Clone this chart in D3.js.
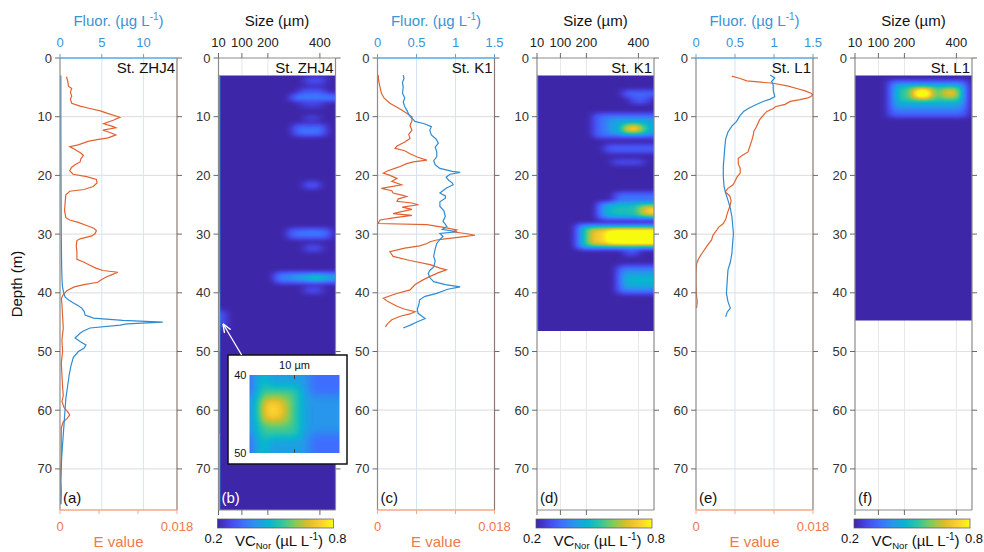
<!DOCTYPE html>
<html>
<head>
<meta charset="utf-8">
<script src="https://d3js.org/d3.v7.min.js"></script>
<style>
  body { margin: 0; background: #fff; }
  text { font-family: "Liberation Sans", Arial, Helvetica, sans-serif; }
</style>
</head>
<body>
<div id="chart"></div>
<script>
// ---- data ----
const stations = ["St. ZHJ4", "St. K1", "St. L1"];
const letters = ["(a)", "(b)", "(c)", "(d)", "(e)", "(f)"];
const depthTicks = [0, 10, 20, 30, 40, 50, 60, 70];
const sizeTicks = [10, 100, 200, 400];
const fluorMax = [14, 1.5, 1.5];
const fluorTicks = [[0, 5, 10], [0, 0.5, 1, 1.5], [0, 0.5, 1, 1.5]];
const eTicks = [0, 0.006, 0.012, 0.018];
const eTickLabels = [0, 0.018];

// [depth (m), E value]
const zhj4E = [[3.2,0.0010],[4.0,0.0012],[4.8,0.0013],[5.2,0.0018],[5.8,0.0016],[6.5,0.0018],[7.0,0.0016],[7.7,0.0018],[8.2,0.0031],[8.6,0.0046],[9.0,0.0062],[9.4,0.0072],[10.1,0.0092],[10.6,0.0082],[11.2,0.0067],[11.6,0.0080],[11.9,0.0086],[12.3,0.0066],[12.7,0.0077],[13.1,0.0086],[13.6,0.0074],[13.9,0.0057],[14.2,0.0043],[14.8,0.0028],[15.1,0.0015],[15.6,0.0023],[16.2,0.0032],[16.6,0.0036],[17.2,0.0032],[17.7,0.0031],[18.2,0.0023],[18.6,0.0018],[19.2,0.0015],[19.8,0.0020],[20.2,0.0041],[20.7,0.0056],[21.3,0.0057],[21.9,0.0051],[22.4,0.0037],[22.7,0.0015],[23.3,0.0009],[24.5,0.0008],[26.0,0.0007],[27.2,0.0009],[27.6,0.0015],[28.0,0.0028],[28.5,0.0040],[29.0,0.0052],[29.4,0.0056],[29.9,0.0054],[30.3,0.0049],[30.8,0.0031],[31.1,0.0026],[32.0,0.0025],[33.0,0.0026],[34.3,0.0026],[34.8,0.0037],[35.3,0.0046],[35.8,0.0055],[36.2,0.0066],[36.5,0.0089],[36.9,0.0080],[37.3,0.0071],[37.8,0.0063],[38.2,0.0058],[38.6,0.0037],[39.0,0.0022],[39.6,0.0011],[40.3,0.0005],[41.0,0.0002],[42.0,0.0003],[44.0,0.0004],[46.0,0.0005],[48.0,0.0003],[50.0,0.0004],[52.0,0.0002],[54.0,0.0003],[56.0,0.0004],[57.5,0.0005],[58.5,0.0003],[59.5,0.0006],[60.3,0.0012],[60.8,0.0015],[61.4,0.0011],[62.0,0.0005],[63.0,0.0002],[65.0,0.0002],[68.0,0.0002],[70.0,0.0001],[72.0,0.0001],[74.0,0.0002],[76.0,0.0001]];
// [depth (m), Fluor]
const zhj4F = [[3,0.1],[10,0.1],[20,0.12],[30,0.15],[36,0.2],[38,0.25],[39,0.3],[40,0.45],[40.7,0.6],[41.2,1.0],[41.7,1.55],[42.2,2.2],[42.6,2.6],[43.2,2.9],[43.8,3.0],[44.3,4.0],[44.7,7.5],[45.0,12.3],[45.3,8.0],[45.5,7.2],[46.0,3.6],[46.5,2.8],[46.9,2.4],[47.7,1.8],[48.3,2.4],[48.9,3.1],[49.4,2.9],[50.0,2.2],[51.0,1.6],[52.5,1.3],[54,1.1],[56,0.9],[58,0.7],[60,0.6],[62,0.5],[64,0.4],[66,0.3],[68,0.2],[70,0.15],[72,0.1],[74,0.1],[76,0.1]];

const k1E = [[2.9,0.0001],[4.0,0.0002],[5.0,0.0004],[6.0,0.0006],[6.8,0.0010],[7.7,0.0019],[8.5,0.0032],[9.2,0.0042],[10.0,0.0053],[10.7,0.0053],[11.5,0.0050],[12.3,0.0053],[13.0,0.0048],[13.7,0.0050],[14.3,0.0042],[15.0,0.0030],[15.4,0.0027],[15.8,0.0042],[16.3,0.0050],[16.9,0.0062],[17.4,0.0076],[17.7,0.0055],[18.0,0.0045],[18.6,0.0032],[19.2,0.0016],[19.6,0.0009],[20.0,0.0019],[20.5,0.0030],[21.0,0.0022],[21.6,0.0037],[22.2,0.0006],[22.6,0.0022],[23.0,0.0024],[23.4,0.0039],[23.6,0.0045],[24.0,0.0032],[24.4,0.0030],[24.7,0.0053],[25.0,0.0063],[25.4,0.0038],[25.8,0.0053],[26.2,0.0035],[26.5,0.0024],[26.8,0.0053],[27.2,0.0027],[27.6,0.0004],[28.2,0.0001],[28.4,0.0076],[28.9,0.0104],[29.3,0.0122],[29.6,0.0115],[29.9,0.0135],[30.2,0.0150],[30.5,0.0127],[30.8,0.0104],[31.0,0.0091],[31.3,0.0081],[31.6,0.0076],[32.0,0.0065],[32.4,0.0042],[33.0,0.0019],[33.8,0.0024],[34.5,0.0050],[35.2,0.0081],[35.8,0.0096],[36.1,0.0106],[36.6,0.0093],[37.2,0.0081],[37.8,0.0070],[38.6,0.0058],[39.5,0.0050],[40.2,0.0027],[40.9,0.0009],[41.5,0.0016],[42.3,0.0030],[42.8,0.0042],[43.2,0.0058],[43.6,0.0050],[44.0,0.0035],[44.6,0.0022],[45.2,0.0016],[45.8,0.0012]];
const k1F = [[2.9,0.33],[3.5,0.34],[4.2,0.32],[5.0,0.33],[6.0,0.32],[6.8,0.35],[7.5,0.33],[8.3,0.35],[9.0,0.38],[9.6,0.40],[10.0,0.42],[10.5,0.46],[10.8,0.48],[11.2,0.60],[11.7,0.69],[12.3,0.67],[13.1,0.69],[13.8,0.75],[14.5,0.78],[15.2,0.74],[16.0,0.76],[16.8,0.76],[17.5,0.72],[18.2,0.74],[18.8,0.80],[19.3,0.96],[19.5,1.06],[19.8,0.93],[20.3,0.88],[20.8,0.91],[21.3,0.96],[21.6,0.97],[22.2,0.88],[23.0,0.80],[23.5,0.87],[23.9,0.87],[24.5,0.80],[25.3,0.80],[26.0,0.85],[27.0,0.87],[27.8,0.84],[28.7,0.89],[29.2,0.83],[29.6,1.02],[29.9,0.80],[30.4,0.84],[30.9,0.80],[31.6,0.76],[32.5,0.74],[33.8,0.72],[34.6,0.74],[35.6,0.72],[36.2,0.67],[36.7,0.65],[37.4,0.67],[38.1,0.72],[38.6,0.87],[39.0,1.06],[39.4,0.90],[40.1,0.76],[40.6,0.61],[41.2,0.54],[42.0,0.53],[42.8,0.51],[43.5,0.52],[44.0,0.57],[44.4,0.61],[44.9,0.52],[45.5,0.42],[46.0,0.33]];

const l1E = [[3.1,0.0055],[3.5,0.0068],[3.9,0.0078],[4.3,0.0119],[4.8,0.0142],[5.2,0.0155],[5.6,0.0168],[6.0,0.0177],[6.3,0.0180],[6.6,0.0176],[6.8,0.0172],[7.1,0.0160],[7.4,0.0145],[7.9,0.0137],[8.3,0.0122],[8.6,0.0119],[9.1,0.0109],[9.7,0.0104],[10.5,0.0098],[11.2,0.0095],[11.7,0.0093],[12.5,0.0089],[13.2,0.0088],[14.0,0.0086],[15.0,0.0083],[16.0,0.0080],[16.6,0.0071],[17.1,0.0065],[18.0,0.0065],[18.8,0.0068],[19.6,0.0068],[20.3,0.0063],[21.0,0.0060],[21.6,0.0057],[22.2,0.0049],[22.8,0.0045],[23.5,0.0052],[24.3,0.0054],[25.3,0.0052],[26.5,0.0048],[27.4,0.0046],[28.2,0.0042],[28.8,0.0035],[29.3,0.0032],[30.2,0.0026],[31.0,0.0024],[32.0,0.0017],[33.3,0.0009],[34.2,0.0004],[35.0,0.0001],[36.7,0.0000],[38.5,0.0000],[40.7,0.0001],[41.5,0.0002],[42.4,0.0001],[42.6,0.0001]];
const l1F = [[2.9,0.95],[3.4,1.01],[4.0,0.97],[4.6,0.99],[5.5,0.99],[6.0,1.00],[6.6,1.01],[7.0,0.95],[7.4,0.86],[8.0,0.76],[8.6,0.67],[9.1,0.61],[9.9,0.56],[10.8,0.52],[11.6,0.46],[12.6,0.41],[13.8,0.38],[15.1,0.37],[16.8,0.36],[18.5,0.35],[20.2,0.35],[21.9,0.36],[23.0,0.38],[24.2,0.41],[25.6,0.44],[27.0,0.46],[28.5,0.47],[29.9,0.48],[31.5,0.47],[33.3,0.46],[34.8,0.44],[36.1,0.41],[38.0,0.40],[40.1,0.39],[41.5,0.41],[42.6,0.44],[43.3,0.40],[44.1,0.38]];

// heatmap depth ranges [top, bottom] (m)
const heatRange = [[3, 77], [3, 46.5], [3, 44.7]];
// heatmap cells: [depthTop, depthBottom, sizeLeft, sizeRight, VC_Nor]
const zhj4Heat = [[3.2,4.6,340,420,0.28],[5.2,6.3,320,420,0.3],[6.3,7.3,290,460,0.37],[7.6,8.5,330,410,0.27],[9.8,10.6,340,400,0.27],[11.4,13.3,300,420,0.33],[12.3,13.0,320,400,0.36],[21.0,22.2,340,400,0.3],[29.0,30.7,280,440,0.33],[29.4,30.3,330,410,0.36],[31.8,33.0,340,410,0.28],[36.6,38.3,230,460,0.37],[36.9,38.0,300,460,0.44],[37.0,37.9,360,410,0.56],[39.0,40.2,340,410,0.28],[43,46,10,35,0.3]];
const k1Heat = [[5.6,6.6,340,460,0.33],[6.6,7.8,370,440,0.3],[9.4,13.5,230,460,0.33],[10.2,13.0,280,460,0.42],[11.2,12.8,330,440,0.52],[11.3,12.7,350,410,0.75],[14.8,16.2,270,460,0.31],[17.3,18.2,300,420,0.29],[23.0,24.6,310,460,0.34],[24.6,27.4,250,460,0.43],[24.8,27.2,290,460,0.5],[25.0,27.0,400,460,0.64],[25.5,26.7,430,460,0.76],[28.4,32.5,165,460,0.4],[28.8,32.1,185,460,0.55],[29.1,31.9,215,460,0.72],[29.3,31.7,280,460,0.88],[29.6,31.4,310,460,0.95],[32.6,33.6,350,400,0.3],[35.4,40.2,320,460,0.34],[36.2,39.4,330,460,0.41],[37.0,38.8,350,460,0.47]];
const l1Heat = [[3.8,9.9,140,440,0.33],[4.4,8.6,155,430,0.43],[8.5,10.0,340,410,0.33],[4.9,7.4,175,420,0.54],[5.0,7.0,230,310,0.7],[5.2,6.8,345,405,0.7],[5.3,6.7,245,295,0.92]];
// narrow left-edge strips (smallest size class)
const zhj4Strip = [[3,77,10,17,0.45],[40,50,10,14,0.68],[64,77,10,14,0.66]];
const k1Strip = [[3,46.5,10,15,0.32]];
// inset of (b): 10 µm class, 40-50 m
const insetSize = [5, 15];
const insetDepth = [40, 50];
const insetHeat = [[40,50,5,15,0.33],[40,50,5.7,11.5,0.42],[42.5,47.5,5,15,0.4],[40,50,5.9,6.8,0.52],[41.5,48,6.0,10.5,0.55],[42.8,46.2,6.2,9.3,0.66],[43.3,45.6,6.5,8.5,0.75]];

// ---- layout ----
const W = 984, H = 552;
const panelX = [60, 218.5, 377.5, 537, 696, 855];
const panelW = 117;
const yTop = 58, yBot = 510;
const blue = "#2f8bd2", orange = "#e2622f";
const blueText = "#3a94d6", orangeText = "#ec7a4b";

const parula = ["#3e26a8","#4747eb","#3e6ffe","#2796eb","#08b5d0","#31c69f","#81cc59","#dcbd29","#fccf30","#f9fb0e"];
const color = d3.scaleLinear()
  .domain(parula.map((c, i) => 0.2 + 0.6 * i / (parula.length - 1)))
  .range(parula).clamp(true);
const lut = d3.range(256).map(i => d3.rgb(color(0.2 + 0.6 * i / 255)));

const svg = d3.select("#chart").append("svg")
  .attr("width", W).attr("height", H)
  .style("background", "#fff");
const defs = svg.append("defs");

const grad = defs.append("linearGradient").attr("id", "parulaGrad");
parula.forEach((c, i) => grad.append("stop")
  .attr("offset", (100 * i / (parula.length - 1)) + "%").attr("stop-color", c));

defs.append("marker").attr("id", "arrowW")
  .attr("viewBox", "0 0 10 10").attr("refX", 9).attr("refY", 5)
  .attr("markerWidth", 7).attr("markerHeight", 7).attr("orient", "auto")
  .append("path").attr("d", "M0,1 L10,5 L0,9").attr("fill", "none")
  .attr("stroke", "#fff").attr("stroke-width", 1.5);

const y = d3.scaleLinear().domain([0, 77]).range([yTop, yBot]);

// box blur of a value grid along one axis
function boxPass(src, w, h, r, horiz) {
  const out = new Float32Array(src.length);
  const n = horiz ? w : h, m = horiz ? h : w;
  for (let j = 0; j < m; j++) {
    for (let i = 0; i < n; i++) {
      let s = 0, c = 0;
      for (let k = -r; k <= r; k++) {
        const ii = Math.min(n - 1, Math.max(0, i + k));
        s += horiz ? src[j * w + ii] : src[ii * w + j];
        c++;
      }
      if (horiz) out[j * w + i] = s / c; else out[i * w + j] = s / c;
    }
  }
  return out;
}

// Paints the cells into a pixel grid of values, smooths it, colours it with
// the parula scale and lays it in as an image (like the interpolated original).
function softHeat(parent, cells, xs, ys, box, rx, ry, passes, edges) {
  const pad = 16;
  const gw = Math.ceil(box.w) + 2 * pad, gh = Math.ceil(box.h) + 2 * pad;
  const ox = box.x - pad, oy = box.y - pad;
  let grid = new Float32Array(gw * gh).fill(0.2);
  cells.slice().sort((a, b) => a[4] - b[4]).forEach(c => {
    let px0 = xs(c[2]), px1 = xs(c[3]), py0 = ys(c[0]), py1 = ys(c[1]);
    if (c[2] <= edges[0]) px0 -= pad;
    if (c[3] >= edges[1]) px1 += pad;
    if (c[0] <= edges[2]) py0 -= pad;
    if (c[1] >= edges[3]) py1 += pad;
    const i0 = Math.max(0, Math.round(px0 - ox)), i1 = Math.min(gw, Math.round(px1 - ox));
    const j0 = Math.max(0, Math.round(py0 - oy)), j1 = Math.min(gh, Math.round(py1 - oy));
    for (let j = j0; j < j1; j++) for (let i = i0; i < i1; i++) grid[j * gw + i] = c[4];
  });
  for (let p = 0; p < passes; p++) {
    grid = boxPass(grid, gw, gh, rx, true);
    grid = boxPass(grid, gw, gh, ry, false);
  }
  const cv = document.createElement("canvas");
  cv.width = gw; cv.height = gh;
  const ctx = cv.getContext("2d");
  const img = ctx.createImageData(gw, gh);
  for (let q = 0; q < gw * gh; q++) {
    const t = Math.max(0, Math.min(255, Math.round((grid[q] - 0.2) / 0.6 * 255)));
    const c = lut[t];
    img.data[4 * q] = c.r; img.data[4 * q + 1] = c.g; img.data[4 * q + 2] = c.b; img.data[4 * q + 3] = 255;
  }
  ctx.putImageData(img, 0, 0);
  parent.append("image")
    .attr("x", ox).attr("y", oy).attr("width", gw).attr("height", gh)
    .attr("preserveAspectRatio", "none")
    .attr("href", cv.toDataURL("image/png"));
}

// depth label
svg.append("text")
  .attr("transform", `translate(22,${(yTop + yBot) / 2}) rotate(-90)`)
  .attr("text-anchor", "middle").attr("font-size", 15).attr("fill", "#111")
  .text("Depth (m)");

function depthGrid(g, x0, x1) {
  g.selectAll("line.hg").data(depthTicks.slice(1)).join("line").attr("class", "hg")
    .attr("x1", x0).attr("x2", x1)
    .attr("y1", d => y(d)).attr("y2", d => y(d))
    .attr("stroke", "#e2e2e2").attr("stroke-width", 1.2);
}

function depthFrame(g, x0, x1, rightColor) {
  g.append("line").attr("x1", x0).attr("x2", x0).attr("y1", yTop).attr("y2", yBot)
    .attr("stroke", "#8c8c8c").attr("stroke-width", 1.2);
  g.append("line").attr("x1", x1).attr("x2", x1).attr("y1", yTop).attr("y2", yBot)
    .attr("stroke", rightColor).attr("stroke-width", 1.2);
  g.selectAll("line.lt").data(depthTicks).join("line").attr("class", "lt")
    .attr("x1", x0 - 5).attr("x2", x0).attr("y1", d => y(d)).attr("y2", d => y(d))
    .attr("stroke", "#6a6a6a");
  g.selectAll("line.rt").data(depthTicks).join("line").attr("class", "rt")
    .attr("x1", x1).attr("x2", x1 + 5).attr("y1", d => y(d)).attr("y2", d => y(d))
    .attr("stroke", "#6a6a6a");
  g.selectAll("text.dl").data(depthTicks).join("text").attr("class", "dl")
    .attr("x", x0 - 8).attr("y", d => y(d)).attr("dy", "0.35em")
    .attr("text-anchor", "end").attr("font-size", 13).attr("fill", "#333")
    .text(d => d);
}

function addLabels(g, x0, x1, station, letter, letterColor) {
  g.append("text").attr("x", x1 - 2).attr("y", 73).attr("text-anchor", "end")
    .attr("font-size", 15).attr("fill", "#111").text(station);
  g.append("text").attr("x", x0 + 3).attr("y", 503)
    .attr("font-size", 15).attr("fill", letterColor).text(letter);
}

// ---- line panels ----
function linePanel(k, fData, eData) {
  const x0 = panelX[2 * k], x1 = x0 + panelW;
  const g = svg.append("g");
  const xf = d3.scaleLinear().domain([0, fluorMax[k]]).range([x0, x1]);
  const xe = d3.scaleLinear().domain([0, 0.018]).range([x0, x1]);

  depthGrid(g, x0, x1);
  g.selectAll("line.vg").data(fluorTicks[k].filter(t => t > 0 && t < fluorMax[k])).join("line").attr("class", "vg")
    .attr("x1", d => xf(d)).attr("x2", d => xf(d)).attr("y1", yTop).attr("y2", yBot)
    .attr("stroke", "#d4e6f4").attr("stroke-width", 1);

  const clipId = "clipL" + k;
  defs.append("clipPath").attr("id", clipId).append("rect")
    .attr("x", x0).attr("y", yTop).attr("width", panelW).attr("height", yBot - yTop);
  const lines = g.append("g").attr("clip-path", `url(#${clipId})`);
  lines.append("path").datum(eData)
    .attr("d", d3.line().x(d => xe(d[1])).y(d => y(d[0])))
    .attr("fill", "none").attr("stroke", orange).attr("stroke-width", 1.2);
  lines.append("path").datum(fData)
    .attr("d", d3.line().x(d => xf(d[1])).y(d => y(d[0])))
    .attr("fill", "none").attr("stroke", blue).attr("stroke-width", 1.2);

  depthFrame(g, x0, x1, "#8d7b73");

  // top fluor axis
  g.append("line").attr("x1", x0).attr("x2", x1).attr("y1", yTop).attr("y2", yTop)
    .attr("stroke", "#5aa7df").attr("stroke-width", 1.4);
  g.selectAll("line.tt").data(fluorTicks[k]).join("line").attr("class", "tt")
    .attr("x1", d => xf(d)).attr("x2", d => xf(d)).attr("y1", yTop - 4).attr("y2", yTop)
    .attr("stroke", "#5aa7df");
  g.selectAll("text.tl").data(fluorTicks[k]).join("text").attr("class", "tl")
    .attr("x", d => xf(d)).attr("y", 47).attr("text-anchor", "middle")
    .attr("font-size", 13).attr("fill", blueText).text(d => d);
  const ft = g.append("text").attr("x", (x0 + x1) / 2).attr("y", 26)
    .attr("text-anchor", "middle").attr("font-size", 15).attr("fill", blueText);
  ft.append("tspan").text("Fluor. (µg L");
  ft.append("tspan").attr("dy", -6).attr("font-size", 10).text("-1");
  ft.append("tspan").attr("dy", 6).text(")");

  // bottom E axis
  g.append("line").attr("x1", x0).attr("x2", x1).attr("y1", yBot).attr("y2", yBot)
    .attr("stroke", "#f3a88a").attr("stroke-width", 1.6);
  g.selectAll("line.bt").data(eTicks).join("line").attr("class", "bt")
    .attr("x1", d => xe(d)).attr("x2", d => xe(d)).attr("y1", yBot).attr("y2", yBot + 4)
    .attr("stroke", "#f3a88a");
  g.selectAll("text.bl").data(eTickLabels).join("text").attr("class", "bl")
    .attr("x", d => xe(d)).attr("y", 531).attr("text-anchor", "middle")
    .attr("font-size", 13).attr("fill", orangeText).text(d => d);
  g.append("text").attr("x", (x0 + x1) / 2).attr("y", 547).attr("text-anchor", "middle")
    .attr("font-size", 15).attr("fill", orangeText).text("E value");

  addLabels(g, x0, x1, stations[k], letters[2 * k], "#111");
}

// ---- heatmap panels ----
function heatPanel(k, cells, strip, letterColor) {
  const x0 = panelX[2 * k + 1], x1 = x0 + panelW;
  const g = svg.append("g");
  const xs = d3.scaleLinear().domain([10, 460]).range([x0, x1]);
  const [d0, d1] = heatRange[k];

  depthGrid(g, x0, x1);
  g.selectAll("line.vg").data(sizeTicks.slice(1)).join("line").attr("class", "vg")
    .attr("x1", d => xs(d)).attr("x2", d => xs(d)).attr("y1", yTop).attr("y2", yBot)
    .attr("stroke", "#e6e6e6").attr("stroke-width", 1);

  const clipId = "clipH" + k;
  const hb = { x: x0, y: y(d0), w: panelW, h: y(d1) - y(d0) };
  defs.append("clipPath").attr("id", clipId).append("rect")
    .attr("x", hb.x).attr("y", hb.y).attr("width", hb.w).attr("height", hb.h);
  const wrap = g.append("g").attr("clip-path", `url(#${clipId})`);
  softHeat(wrap, cells, xs, y, hb, 4, 2, 3, [10, 460, d0, d1]);
  wrap.selectAll("rect.s").data(strip).join("rect").attr("class", "s")
    .attr("x", d => xs(d[2])).attr("y", d => y(d[0]))
    .attr("width", d => xs(d[3]) - xs(d[2])).attr("height", d => y(d[1]) - y(d[0]))
    .attr("fill", d => color(d[4]));

  depthFrame(g, x0, x1, "#8c8c8c");
  g.append("line").attr("x1", x0).attr("x2", x1).attr("y1", yTop).attr("y2", yTop)
    .attr("stroke", "#8c8c8c").attr("stroke-width", 1.2);
  g.append("line").attr("x1", x0).attr("x2", x1).attr("y1", yBot).attr("y2", yBot)
    .attr("stroke", "#8c8c8c").attr("stroke-width", 1.2);
  g.selectAll("line.tt").data(sizeTicks).join("line").attr("class", "tt")
    .attr("x1", d => xs(d)).attr("x2", d => xs(d)).attr("y1", yTop - 5).attr("y2", yTop)
    .attr("stroke", "#6a6a6a");
  g.selectAll("line.bt").data(sizeTicks).join("line").attr("class", "bt")
    .attr("x1", d => xs(d)).attr("x2", d => xs(d)).attr("y1", yBot).attr("y2", yBot + 5)
    .attr("stroke", "#6a6a6a");
  g.selectAll("text.tl").data(sizeTicks).join("text").attr("class", "tl")
    .attr("x", d => xs(d)).attr("y", 47).attr("text-anchor", "middle")
    .attr("font-size", 13).attr("fill", "#222").text(d => d);
  g.append("text").attr("x", (x0 + x1) / 2).attr("y", 26).attr("text-anchor", "middle")
    .attr("font-size", 15).attr("fill", "#111").text("Size (µm)");

  // colorbar
  const cb = d3.scaleLinear().domain([0.2, 0.8]).range([x0 - 1, x1 - 2]);
  g.append("rect").attr("x", cb(0.2)).attr("y", 519).attr("width", cb(0.8) - cb(0.2)).attr("height", 9)
    .attr("fill", "url(#parulaGrad)").attr("stroke", "#555").attr("stroke-width", 0.7);
  g.selectAll("text.cl").data([0.2, 0.8]).join("text").attr("class", "cl")
    .attr("x", d => cb(d) + (d < 0.5 ? -4 : 4)).attr("y", 543).attr("text-anchor", "middle")
    .attr("font-size", 13).attr("fill", "#111").text(d => d);
  const vc = g.append("text").attr("x", (x0 + x1) / 2 + 2).attr("y", 546).attr("text-anchor", "middle")
    .attr("font-size", 15).attr("fill", "#111");
  vc.append("tspan").text("VC");
  vc.append("tspan").attr("dy", 3).attr("font-size", 9.5).text("Nor");
  vc.append("tspan").attr("dy", -3).text(" (µL L");
  vc.append("tspan").attr("dy", -6).attr("font-size", 10).text("-1");
  vc.append("tspan").attr("dy", 6).text(")");

  addLabels(g, x0, x1, stations[k], letters[2 * k + 1], letterColor);
  return { g, xs };
}

linePanel(0, zhj4F, zhj4E);
linePanel(1, k1F, k1E);
linePanel(2, l1F, l1E);
const pb = heatPanel(0, zhj4Heat, zhj4Strip, "#fff");
heatPanel(1, k1Heat, k1Strip, "#111");
heatPanel(2, l1Heat, [], "#111");

// ---- inset in (b) ----
const ins = svg.append("g");
const box = { x: 228, y: 355, w: 119, h: 109 };
const inner = { x: 249.5, y: 375, w: 90, h: 78 };
ins.append("rect").attr("x", box.x).attr("y", box.y).attr("width", box.w).attr("height", box.h)
  .attr("fill", "#fff").attr("stroke", "#111").attr("stroke-width", 1.5);
const ix = d3.scaleLinear().domain(insetSize).range([inner.x, inner.x + inner.w]);
const iy = d3.scaleLinear().domain(insetDepth).range([inner.y, inner.y + inner.h]);
defs.append("clipPath").attr("id", "clipInset").append("rect")
  .attr("x", inner.x).attr("y", inner.y).attr("width", inner.w).attr("height", inner.h);
const iw = ins.append("g").attr("clip-path", "url(#clipInset)");
softHeat(iw, insetHeat, ix, iy, inner, 5, 4, 3, [5, 15, 40, 50]);
ins.selectAll("line.it").data([inner.y, inner.y + inner.h - 4]).join("line").attr("class", "it")
  .attr("x1", ix(10)).attr("x2", ix(10)).attr("y1", d => d).attr("y2", d => d + 4)
  .attr("stroke", "#444");
ins.append("text").attr("x", ix(10)).attr("y", 369).attr("text-anchor", "middle")
  .attr("font-size", 11).attr("fill", "#111").text("10 µm");
ins.selectAll("text.il").data(insetDepth).join("text").attr("class", "il")
  .attr("x", inner.x - 3).attr("y", d => iy(d)).attr("dy", "0.35em").attr("text-anchor", "end")
  .attr("font-size", 11).attr("fill", "#111").text(d => d);

// arrow from inset to the 10 µm feature
svg.append("line")
  .attr("x1", pb.xs(99)).attr("y1", y(50.6)).attr("x2", pb.xs(29)).attr("y2", y(45.4))
  .attr("stroke", "#fff").attr("stroke-width", 1.3).attr("marker-end", "url(#arrowW)");
</script>
</body>
</html>
